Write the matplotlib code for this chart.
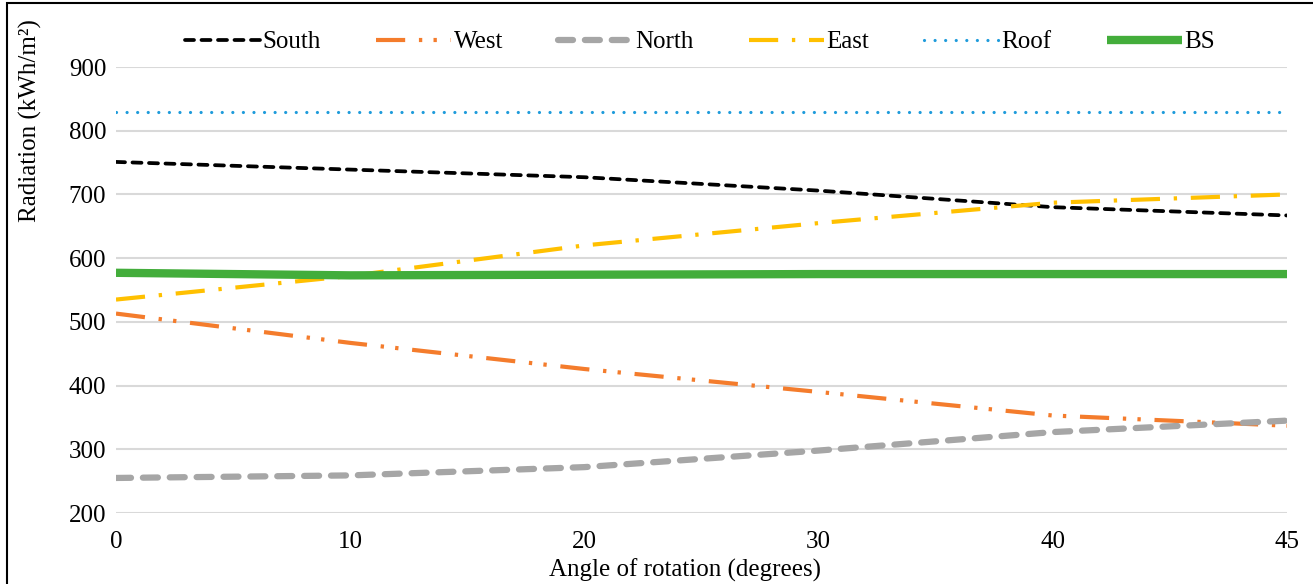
import numpy as np
import matplotlib
import matplotlib.pyplot as plt
from matplotlib.patches import Rectangle
matplotlib.use('Agg')

# Данные
angles = ["0", "10", "20", "30", "40", "45"]
south = [751, 739, 727, 706, 680, 667]
west = [513, 467, 426, 390, 353, 337]
north = [255, 259, 272, 298, 327, 345]
east = [535, 572, 620, 655, 687, 700]
roof = [830, 830, 830, 830, 830, 830]
bs = [577, 573, 574, 575, 575, 575]

plt.rcParams['font.family'] = ['Liberation Serif', 'DejaVu Serif']
fs = 18

W, H = 1313, 584
fig = plt.figure(figsize=(W / 100, H / 100), dpi=100)
ax = fig.add_axes([116 / W, 1 - 513 / H, (1287 - 116) / W, (513 - 67) / H])

x = np.arange(len(angles))

ax.plot(x, south, color='black', lw=2.7, dashes=(2.4, 2.0),
        dash_capstyle='round', label='South')
ax.plot(x, west, color='#F47C2C', lw=3.0, dashes=(7.0, 3.3, 0.8, 2.7, 0.8, 3.3),
        dash_capstyle='butt', label='West')
ax.plot(x, north, color='#A6A6A6', lw=4.5, dashes=(2.4, 1.9),
        dash_capstyle='round', label='North')
ax.plot(x, east, color='#FFC000', lw=3.0, dashes=(7.0, 3.3, 0.8, 3.3),
        dash_capstyle='butt', label='East')
ax.plot(x, roof, color='#1E9BDB', lw=2.3, dashes=(0.01, 3.3),
        dash_capstyle='round', label='Roof')
ax.plot(x, bs, color='#43AD3B', lw=6.0, solid_capstyle='butt', label='BS')

ax.set_xlim(0, len(angles) - 1)
ax.set_ylim(200, 900)
ax.set_xticks(x)
ax.set_xticklabels(angles)
ax.set_yticks(np.arange(200, 901, 100))
ax.tick_params(axis='both', length=0, labelsize=fs)
ax.tick_params(axis='y', pad=7)
ax.tick_params(axis='x', pad=13)
ax.grid(axis='y', color='#D9D9D9', lw=1.5)
ax.set_axisbelow(True)
for s in ax.spines.values():
    s.set_visible(False)

fig.legend(loc='center', bbox_to_anchor=(700 / W, 1 - 42 / H), ncol=6,
           frameon=False, fontsize=fs, handlelength=3.0, handletextpad=0.1,
           columnspacing=2.2, borderpad=0)

fig.text(30 / W, 1 - 121 / H, 'Radiation (kWh/m²)', rotation=90,
         ha='center', va='center', fontsize=fs)
fig.text(685 / W, 2 / H, 'Angle of rotation (degrees)',
         ha='center', va='bottom', fontsize=fs)

# Рамка области диаграммы
fig.patches.append(Rectangle((7 / W, -0.05), 1.1, 1 - 3 / H + 0.05,
                             transform=fig.transFigure, fill=False,
                             edgecolor='black', lw=1.5))

plt.savefig('out.png', dpi=100)
